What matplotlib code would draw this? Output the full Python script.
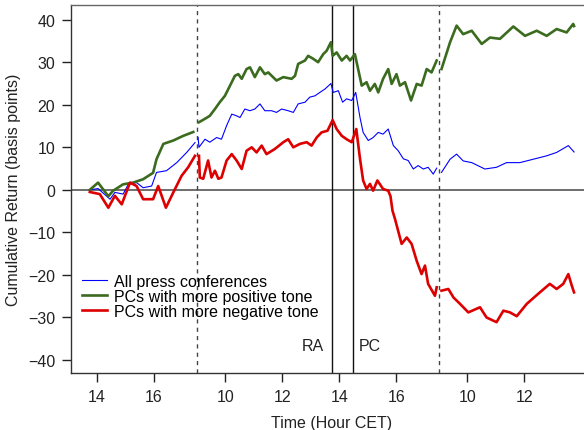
import numpy as np
import matplotlib
matplotlib.use("Agg")
import matplotlib.pyplot as plt

plt.rcParams.update({
    "font.family": ["Liberation Sans", "DejaVu Sans"],
    "font.size": 11.5,
    "axes.linewidth": 1.0,
})

# x = trading hours since 13:45 on day 1 (overnight gaps removed)
DAY_BREAKS = [3.75, 12.25]   # 17:30 close -> 09:00 open
RA_POS, PC_POS = 8.5, 9.25   # 13:45 rate announcement, 14:30 press conference

TICK_POS = [0.25, 2.25, 4.75, 6.75, 8.75, 10.75, 13.25, 15.25]
TICK_LABELS = ["14", "16", "10", "12", "14", "16", "10", "12"]

all_x = [0.00, 0.29, 0.71, 0.88, 1.17, 1.35, 1.64, 1.87, 2.17, 2.34, 2.69, 3.05, 3.40, 3.69,
         3.80, 3.83, 4.04, 4.21, 4.45, 4.62, 4.80, 4.98, 5.15, 5.27, 5.44, 5.62, 5.79, 5.97,
         6.14, 6.38, 6.55, 6.73, 6.96, 7.14, 7.31, 7.55, 7.72, 7.90, 8.07, 8.25, 8.46, 8.54,
         8.72, 8.87, 9.01, 9.19, 9.33, 9.48, 9.59, 9.77, 9.94, 10.12, 10.29, 10.47, 10.65,
         10.82, 11.00, 11.17, 11.35, 11.52, 11.70, 11.87, 12.05, 12.17,
         12.34, 12.64, 12.87, 13.10, 13.40, 13.86, 14.27, 14.62, 15.09, 15.56, 16.03, 16.38,
         16.79, 16.99]
all_y = [0.0, 0.3, -2.2, -0.6, -1.0, 1.3, 1.7, 0.5, 0.9, 4.1, 4.5, 6.4, 8.8, 11.1,
         12.3, 10.0, 11.9, 11.2, 12.3, 11.9, 15.1, 17.8, 17.4, 17.0, 19.0, 18.6, 19.0, 20.2,
         18.6, 18.6, 18.2, 19.0, 18.6, 18.2, 20.2, 20.6, 21.8, 22.1, 22.9, 23.7, 25.0, 22.9,
         23.3, 20.6, 21.4, 21.0, 22.9, 17.0, 13.5, 11.6, 12.3, 13.5, 13.1, 14.3, 10.4,
         9.2, 7.3, 6.9, 4.9, 5.7, 4.9, 5.3, 3.7, 5.1,
         4.1, 7.2, 8.4, 6.8, 6.4, 4.9, 5.3, 6.4, 6.4, 7.2, 8.0, 8.8,
         10.4, 8.9]

pos_x = [0.00, 0.29, 0.65, 0.82, 1.17, 1.52, 1.87, 2.22, 2.34, 2.58, 2.93, 3.28, 3.63,
         3.83, 4.04, 4.21, 4.39, 4.56, 4.74, 4.92, 5.09, 5.21, 5.33, 5.50, 5.62, 5.79, 5.97,
         6.14, 6.26, 6.55, 6.79, 7.08, 7.20, 7.31, 7.55, 7.66, 7.84, 8.01, 8.19, 8.31, 8.46,
         8.52, 8.66, 8.84, 9.01, 9.13, 9.30, 9.44, 9.54, 9.71, 9.83, 10.00, 10.12, 10.29,
         10.47, 10.59, 10.76, 10.88, 11.06, 11.27, 11.47, 11.64, 11.82, 11.99, 12.17,
         12.34, 12.64, 12.87, 13.10, 13.40, 13.75, 14.04, 14.39, 14.86, 15.27, 15.68, 16.03,
         16.38, 16.73, 16.96, 16.99]
pos_y = [0.0, 1.7, -1.5, -0.2, 1.3, 1.7, 2.5, 4.0, 7.2, 10.8, 11.6, 12.7, 13.6,
         15.9, 16.7, 17.4, 19.0, 20.6, 22.1, 24.5, 26.8, 27.2, 26.1, 28.4, 28.8, 26.5, 28.8,
         27.2, 27.6, 25.7, 26.5, 26.1, 26.8, 29.6, 30.4, 31.5, 30.8, 30.0, 31.9, 32.7, 34.7,
         31.5, 32.3, 30.4, 31.5, 30.4, 31.9, 27.6, 24.5, 25.3, 23.3, 24.9, 22.9, 26.1,
         28.4, 24.9, 27.2, 24.5, 25.3, 21.0, 24.9, 24.5, 28.4, 27.6, 30.4,
         28.4, 34.7, 38.6, 36.6, 37.4, 34.3, 35.8, 35.5, 38.4, 36.2, 37.4, 36.2,
         37.8, 37.0, 39.0, 38.5]

neg_x = [0.00, 0.35, 0.65, 0.88, 1.12, 1.41, 1.64, 1.87, 2.22, 2.40, 2.67, 2.93, 3.22, 3.45, 3.69,
         3.83, 3.86, 3.98, 4.15, 4.27, 4.39, 4.51, 4.62, 4.80, 4.98, 5.15, 5.33, 5.50, 5.68,
         5.85, 6.03, 6.20, 6.49, 6.79, 6.96, 7.14, 7.37, 7.61, 7.78, 7.96, 8.13, 8.34, 8.52,
         8.66, 8.84, 9.01, 9.19, 9.35, 9.48, 9.59, 9.71, 9.83, 9.94, 10.09, 10.29, 10.47,
         10.55, 10.62, 10.71, 10.94, 11.12, 11.29, 11.47, 11.64, 11.76, 11.87, 12.11, 12.17,
         12.34, 12.58, 12.76, 12.99, 13.28, 13.69, 13.92, 14.27, 14.51, 14.74, 14.98, 15.33,
         15.79, 16.14, 16.38, 16.61, 16.79, 16.91, 16.99]
neg_y = [-0.5, -1.0, -4.2, -1.4, -3.4, 1.7, 0.9, -2.2, -2.2, 0.9, -4.2, -0.6, 3.3, 5.3, 8.0,
         8.0, 2.9, 2.6, 6.9, 2.9, 4.5, 2.6, 2.9, 6.9, 8.4, 6.9, 4.9, 9.2, 10.0,
         8.8, 10.4, 8.4, 9.6, 11.2, 11.9, 10.0, 10.8, 11.2, 10.4, 12.3, 13.5, 13.9, 16.4,
         14.3, 12.7, 11.9, 11.2, 14.3, 7.3, 2.2, 0.2, 1.4, -0.2, 2.2, 0.2, -0.2,
         -1.5, -4.9, -6.9, -12.7, -11.2, -12.7, -16.7, -19.8, -17.8, -22.1, -24.9, -22.9,
         -23.7, -23.3, -25.3, -26.8, -28.8, -27.6, -30.0, -31.1, -28.4, -28.8, -29.7, -26.8,
         -24.1, -22.1, -23.3, -22.1, -19.8, -22.5, -24.1]

BLUE, GREEN, RED = "#0000ff", "#3b6b1f", "#dd0000"


def split_days(x, y):
    """Insert NaN at the overnight breaks so each day is its own segment."""
    x = np.asarray(x, float)
    y = np.asarray(y, float)
    for b in DAY_BREAKS[::-1]:
        i = np.searchsorted(x, b)
        x = np.insert(x, i, b)
        y = np.insert(y, i, np.nan)
    return x, y


fig = plt.figure(figsize=(5.84, 4.31), dpi=100)
ax = fig.add_axes([71 / 584, 57 / 431, 521 / 584, 368 / 431])

ax.axhline(0, color="#555555", lw=1.2, zorder=1)
for b in DAY_BREAKS:
    ax.axvline(b, color="#444444", lw=1.0, ls=(0, (3, 3)), zorder=1)
ax.axvline(RA_POS, color="#111111", lw=1.0, zorder=1)
ax.axvline(PC_POS, color="#111111", lw=1.0, zorder=1)

ax.plot(*split_days(all_x, all_y), color=BLUE, lw=0.8, label="All press conferences", zorder=3)
ax.plot(*split_days(pos_x, pos_y), color=GREEN, lw=1.9, label="PCs with more positive tone", zorder=3)
ax.plot(*split_days(neg_x, neg_y), color=RED, lw=1.9, label="PCs with more negative tone", zorder=3)

ax.text(RA_POS - 0.3, -36.6, "RA", ha="right", va="center", color="#222222")
ax.text(PC_POS + 0.2, -36.6, "PC", ha="left", va="center", color="#222222")

ax.set_xlim(-0.66, 17.62)
ax.set_ylim(-43.05, 43.45)
ax.set_xticks(TICK_POS)
ax.set_xticklabels(TICK_LABELS)
ax.set_yticks(np.arange(-40, 41, 10))
ax.tick_params(length=6.5, width=1.0, pad=5, colors="#222222", labelcolor="#222222")

for side in ["left", "bottom"]:
    ax.spines[side].set_color("#333333")
ax.spines["top"].set_color("#666666")
ax.spines["right"].set_visible(False)

ax.set_xlabel("Time (Hour CET)", color="#222222", labelpad=8)
ax.set_ylabel("Cumulative Return (basis points)", color="#222222", labelpad=5)

ax.legend(loc="upper left", bbox_to_anchor=(0.021, 0.27), frameon=False,
          borderpad=0, borderaxespad=0, handlelength=1.6, handletextpad=0.4,
          labelspacing=0.0)

fig.savefig("out.png", dpi=100)
